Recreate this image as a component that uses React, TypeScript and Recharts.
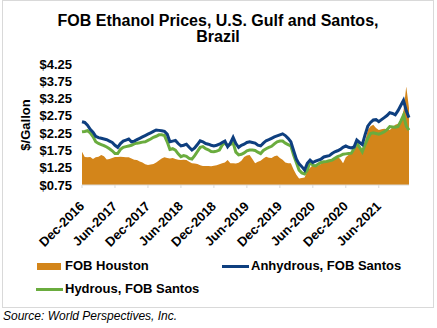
import { ComposedChart, Area, Line, XAxis, YAxis } from "recharts";

// semi-monthly readings, Dec-2016 .. Nov-2021 ($/gallon)
const fobHouston = [
  1.71, 1.56, 1.55, 1.56, 1.5, 1.55, 1.57, 1.62, 1.58, 1.49,
  1.5, 1.53, 1.56, 1.56, 1.57, 1.56, 1.55, 1.55, 1.52, 1.48,
  1.47, 1.43, 1.4, 1.35, 1.33, 1.34, 1.36, 1.4, 1.46, 1.52,
  1.55, 1.53, 1.52, 1.53, 1.5, 1.48, 1.47, 1.48, 1.47, 1.42,
  1.38, 1.37, 1.36, 1.32, 1.3, 1.3, 1.3, 1.29, 1.31, 1.32,
  1.35, 1.38, 1.4, 1.47, 1.38, 1.38, 1.37, 1.39, 1.45, 1.56,
  1.6, 1.62, 1.5, 1.38, 1.42, 1.45, 1.52, 1.57, 1.54, 1.53,
  1.58, 1.6, 1.53, 1.48, 1.4, 1.38, 1.38, 1.2, 1.05, 0.94,
  0.95, 0.97, 1.15, 1.25, 1.32, 1.32, 1.32, 1.36, 1.42, 1.44,
  1.46, 1.47, 1.52, 1.57, 1.5, 1.38, 1.55, 1.62, 1.68, 1.74,
  1.9, 1.82, 1.66, 2.0, 2.34, 2.45, 2.49, 2.4, 2.34, 2.36,
  2.38, 2.36, 2.34, 2.42, 2.49, 2.52, 2.6, 2.9, 3.6, 2.98,
];

const anhydrousSantos = [
  2.58, 2.56, 2.48, 2.36, 2.28, 2.16, 2.12, 2.1, 2.08, 2.06,
  2.02, 1.98, 1.9, 1.84, 1.95, 2.02, 2.05, 2.08, 2.0, 2.02,
  2.06, 2.1, 2.14, 2.18, 2.22, 2.26, 2.3, 2.34, 2.33, 2.32,
  2.3, 2.22, 2.0, 2.02, 2.04, 1.95, 1.88, 1.9, 1.93, 1.84,
  1.76, 1.82, 1.92, 2.03, 2.0, 1.95, 1.93, 1.9, 1.88, 1.9,
  1.93, 1.98, 2.02, 1.86, 1.96, 2.13, 1.95, 1.84, 1.9, 1.93,
  1.98, 2.0, 1.98, 1.96, 1.9, 1.88, 1.96, 2.03, 2.06, 2.1,
  2.14, 2.17, 2.2, 2.23, 2.18, 2.1, 2.0, 1.75, 1.5, 1.36,
  1.28, 1.18, 1.38, 1.47, 1.4, 1.44, 1.47, 1.5, 1.56, 1.58,
  1.6, 1.66, 1.71, 1.74, 1.78, 1.84, 1.88, 1.84, 1.82, 1.85,
  2.05, 1.98, 1.92, 2.2, 2.45, 2.56, 2.63, 2.64, 2.58, 2.64,
  2.7, 2.76, 2.84, 2.82, 2.78, 2.9, 3.05, 3.2, 2.9, 2.7,
];

const hydrousSantos = [
  2.29, 2.3, 2.32, 2.26, 2.15, 2.0, 1.95, 1.92, 1.89, 1.85,
  1.8, 1.74, 1.66, 1.66, 1.78, 1.84, 1.86, 1.88, 1.9, 1.94,
  1.96, 1.97, 1.99, 2.0, 2.04, 2.08, 2.13, 2.16, 2.2, 2.2,
  2.18, 2.0, 1.78, 1.8, 1.76, 1.65, 1.57, 1.6, 1.58, 1.52,
  1.5, 1.6, 1.72, 1.84, 1.86, 1.8, 1.77, 1.72, 1.71, 1.73,
  1.76, 1.9, 1.97, 1.88, 1.92, 1.97, 1.7, 1.62, 1.64, 1.68,
  1.74, 1.76, 1.76, 1.75, 1.7, 1.66, 1.75, 1.8, 1.84, 1.87,
  1.94, 2.0, 2.02, 2.02, 1.96, 1.92, 1.88, 1.62, 1.4, 1.18,
  1.1, 1.07, 1.18, 1.42, 1.32, 1.3, 1.36, 1.4, 1.42, 1.43,
  1.45, 1.47, 1.52, 1.57, 1.6, 1.64, 1.65, 1.66, 1.67, 1.8,
  1.96, 1.84, 1.71, 1.92, 2.1, 2.24, 2.26, 2.24, 2.22, 2.25,
  2.29, 2.35, 2.44, 2.43, 2.42, 2.44, 2.6, 2.77, 2.45, 2.34,
];

const tickLabels = [
  "Dec-2016", "Jun-2017", "Dec-2017", "Jun-2018", "Dec-2018",
  "Jun-2019", "Dec-2019", "Jun-2020", "Dec-2020", "Jun-2021",
];
const yTicks = [0.75, 1.25, 1.75, 2.25, 2.75, 3.25, 3.75, 4.25];

const ORANGE = "#D3851A";
const NAVY = "#0E3F7F";
const GREEN = "#6AAC3E";
const FONT = "'Liberation Sans', Arial, sans-serif";

const data = fobHouston.map((v, i) => ({
  i,
  houston: v,
  anhydrous: anhydrousSantos[i],
  hydrous: hydrousSantos[i],
}));

// ticks every 6 months = 12 semi-monthly points
const xTicks = tickLabels.map((_, k) => k * 12);

function XTick(props: any) {
  const { x, y, payload } = props;
  const px = x + 3;
  const py = y + 17;
  return (
    <text
      x={px}
      y={py}
      transform={`rotate(-45 ${px} ${py})`}
      textAnchor="end"
      fontFamily={FONT}
      fontSize={13}
      fontWeight="bold"
      fill="#000"
    >
      {tickLabels[Math.round(payload.value / 12)]}
    </text>
  );
}

export default function App() {
  return (
    <div
      style={{
        position: "absolute",
        left: 0,
        top: 0,
        width: 437,
        height: 328,
        background: "#fff",
        fontFamily: FONT,
      }}
    >
      <div
        style={{
          position: "absolute",
          left: 2,
          top: 0,
          width: 430,
          height: 306,
          border: "1px solid #d9d9d9",
        }}
      />
      <div
        style={{
          position: "absolute",
          left: 2,
          top: 13,
          width: 432,
          textAlign: "center",
          fontSize: 16,
          fontWeight: "bold",
          lineHeight: "16px",
          color: "#000",
        }}
      >
        FOB Ethanol Prices, U.S. Gulf and Santos,
        <br />
        Brazil
      </div>
      <div
        style={{
          position: "absolute",
          left: 25,
          top: 125,
          transform: "translate(-50%, -50%) rotate(-90deg)",
          fontSize: 13,
          fontWeight: "bold",
          whiteSpace: "nowrap",
          color: "#000",
        }}
      >
        $/Gallon
      </div>
      <div style={{ position: "absolute", left: 0, top: 0 }}>
        <ComposedChart
          width={437}
          height={250}
          data={data}
          margin={{ top: 64, right: 28, bottom: 0, left: 0 }}
        >
          <XAxis
            dataKey="i"
            type="number"
            domain={[0, 119]}
            ticks={xTicks}
            interval={0}
            tick={<XTick />}
            tickSize={3}
            height={65}
            axisLine={{ stroke: "#d9d9d9" }}
            tickLine={{ stroke: "#d9d9d9" }}
          />
          <YAxis
            domain={[0.75, 4.25]}
            ticks={yTicks}
            interval={0}
            allowDataOverflow
            width={82}
            axisLine={false}
            tickLine={false}
            tickMargin={4}
            tickFormatter={(v: number) => `$${v.toFixed(2)}`}
            tick={{ fill: "#000", fontSize: 13, fontWeight: "bold", fontFamily: FONT }}
          />
          <Area
            dataKey="houston"
            type="linear"
            stroke="none"
            fill={ORANGE}
            fillOpacity={1}
            isAnimationActive={false}
            dot={false}
            activeDot={false}
          />
          <Line
            dataKey="hydrous"
            type="linear"
            stroke={GREEN}
            strokeWidth={3}
            dot={false}
            activeDot={false}
            isAnimationActive={false}
          />
          <Line
            dataKey="anhydrous"
            type="linear"
            stroke={NAVY}
            strokeWidth={3}
            dot={false}
            activeDot={false}
            isAnimationActive={false}
          />
        </ComposedChart>
      </div>
      {/* legend */}
      <div style={{ position: "absolute", left: 37, top: 263, width: 24, height: 7, background: ORANGE }} />
      <div style={{ position: "absolute", left: 65, top: 258, fontSize: 13, fontWeight: "bold", lineHeight: "16px", color: "#000" }}>
        FOB Houston
      </div>
      <div style={{ position: "absolute", left: 222, top: 265, width: 27, height: 3, background: NAVY }} />
      <div style={{ position: "absolute", left: 251, top: 258, fontSize: 13, fontWeight: "bold", lineHeight: "16px", color: "#000" }}>
        Anhydrous, FOB Santos
      </div>
      <div style={{ position: "absolute", left: 36, top: 288, width: 27, height: 3, background: GREEN }} />
      <div style={{ position: "absolute", left: 65, top: 281, fontSize: 13, fontWeight: "bold", lineHeight: "16px", color: "#000" }}>
        Hydrous, FOB Santos
      </div>
      <div
        style={{
          position: "absolute",
          left: 3,
          top: 309,
          fontSize: 12,
          fontStyle: "italic",
          lineHeight: "14px",
          color: "#000",
        }}
      >
        Source: World Perspectives, Inc.
      </div>
    </div>
  );
}
